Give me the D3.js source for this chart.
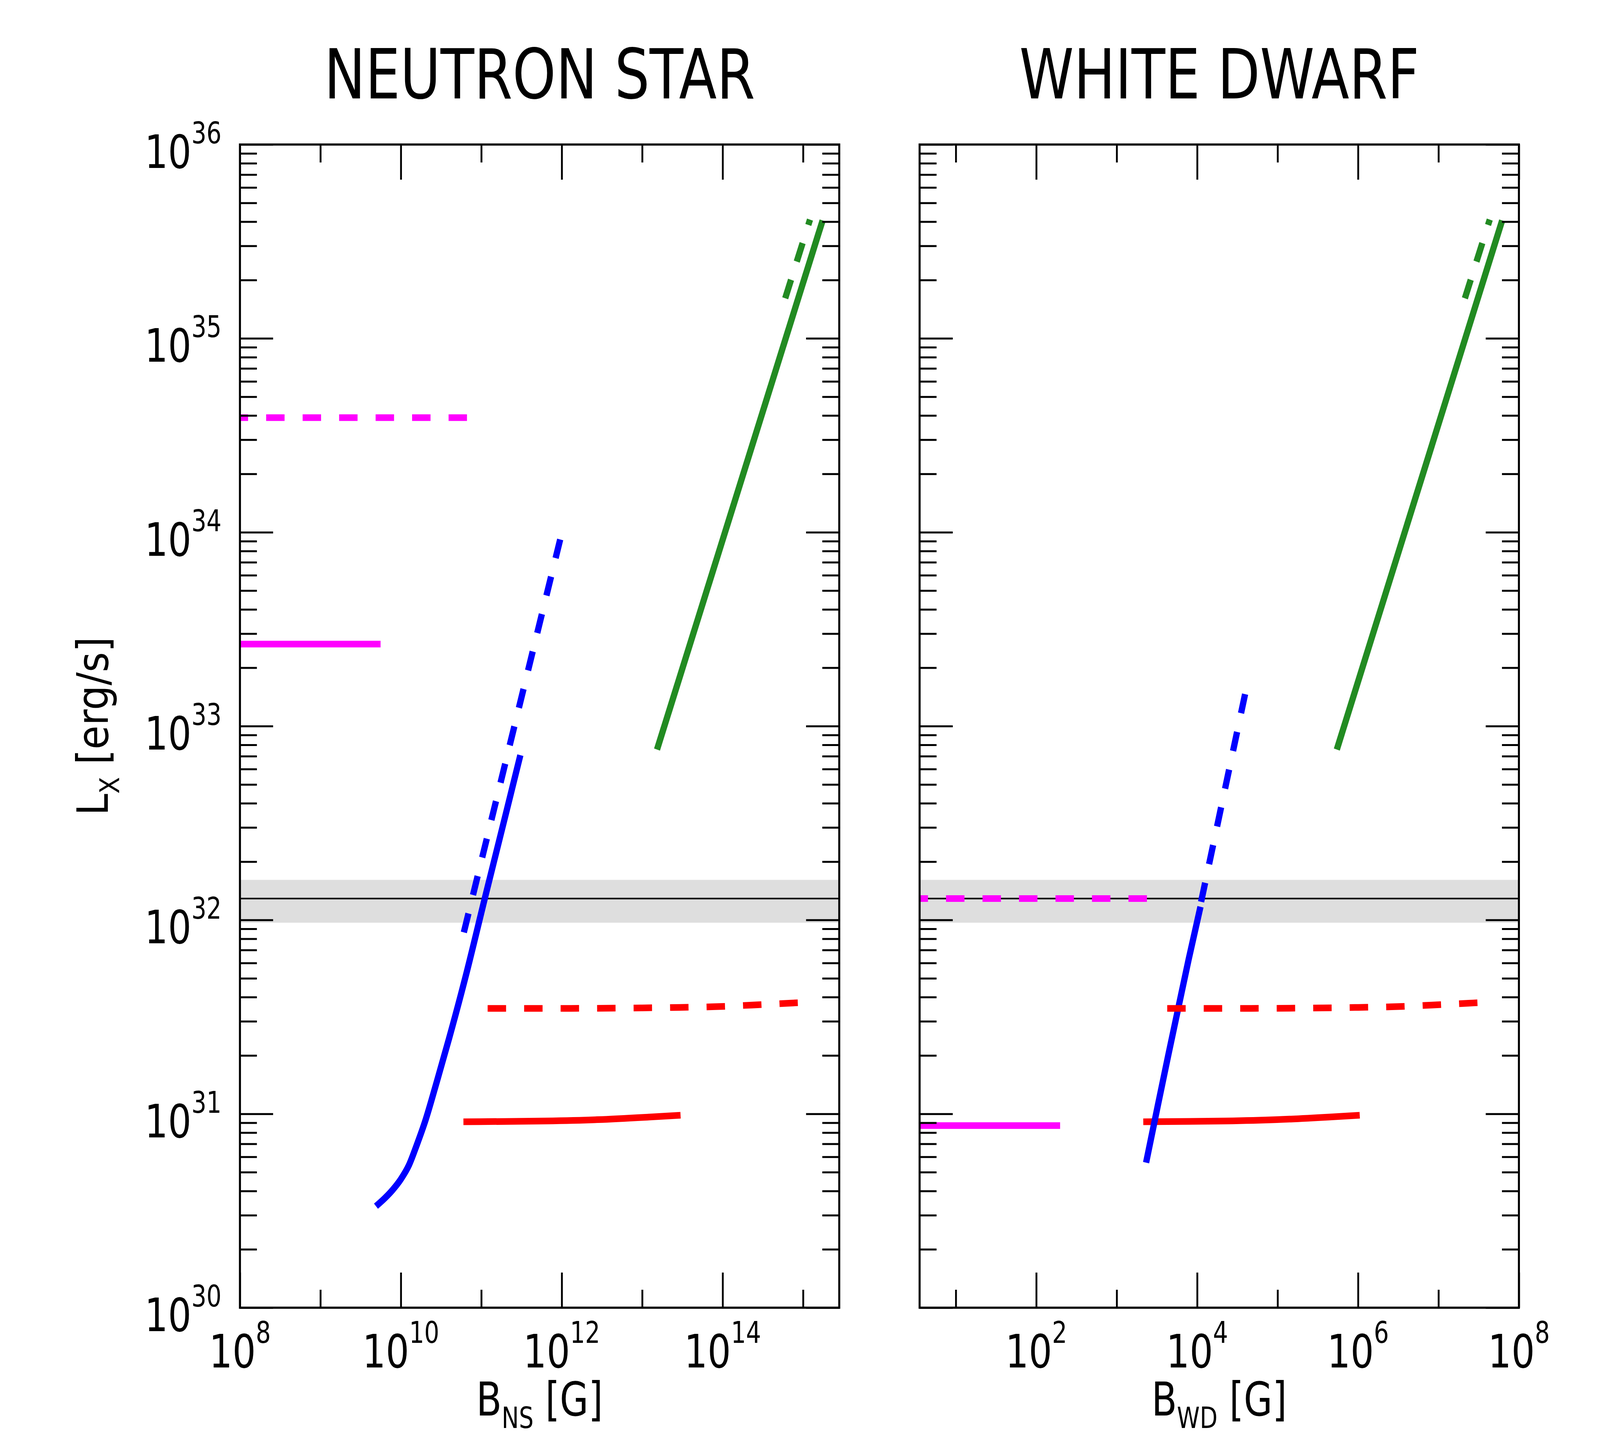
<!DOCTYPE html>
<html>
<head>
<meta charset="utf-8">
<script src="https://cdn.jsdelivr.net/npm/d3@7"></script>
<style>
  html, body { margin: 0; padding: 0; background: #fff; width: 100%; height: 100%; overflow: hidden; }
  svg { display: block; width: 100vw; height: 100vh; }
  text { font-family: "DejaVu Sans", sans-serif; fill: #000; }
</style>
</head>
<body>
<div id="chart"></div>
<script>
// ---- data ----
// neutron star panel
var nsBlueSolidB = [4.91e9, 6.31e9, 7.94e9, 1.0e10, 1.26e10, 1.58e10, 2.0e10, 2.82e10, 3.98e10, 6.31e10, 1.12e11, 2.0e11, 3.06e11];
var nsBlueSolidL = [3.34e30, 3.67e30, 4.06e30, 4.60e30, 5.43e30, 6.92e30, 9.12e30, 1.48e31, 2.45e31, 5.01e31, 1.32e32, 3.47e32, 7.08e32];
var nsBlueDashB = [6.07e10, 9.57e11];
var nsBlueDashL = [8.63e31, 9.18e33];
var nsRedSolidB = [6.0e10, 6.3e11, 2.8e12, 1.2e13, 3.0e13];
var nsRedSolidL = [9.1e30, 9.18e30, 9.33e30, 9.62e30, 9.84e30];
var nsRedDashB = [1.2e11, 1.3e12, 1.0e13, 2.9e13, 8.1e13, 2.3e14, 6.6e14, 8.6e14];
var nsRedDashL = [3.50e31, 3.50e31, 3.52e31, 3.54e31, 3.57e31, 3.64e31, 3.72e31, 3.74e31];
var nsGreenSolidB = [1.53e13, 1.75e15];
var nsGreenSolidL = [7.57e32, 4.06e35];
var nsGreenDashB = [6.0e14, 1.22e15];
var nsGreenDashL = [1.61e35, 4.1e35];
var nsMagentaSolidB = [1e7, 5.6e9];
var nsMagentaSolidL = [2.65e33, 2.65e33];
var nsMagentaDashB = [7.45e7, 6.64e10];
var nsMagentaDashL = [3.9e34, 3.9e34];

// white dwarf panel
var wdBlueSolidB = [2.32e3, 3.24e3, 4.37e3, 5.86e3, 7.87e3, 1.10e4];
var wdBlueSolidL = [5.6e30, 1.10e31, 2.0e31, 3.55e31, 6.3e31, 1.17e32];
var wdBlueDashB = [1.12e4, 3.97e4];
var wdBlueDashL = [1.24e32, 1.48e33];
var wdRedSolidB = [2.14e3, 2.24e4, 9.8e4, 4.3e5, 1.05e6];
var wdRedSolidL = [9.1e30, 9.18e30, 9.33e30, 9.62e30, 9.84e30];
var wdRedDashB = [4.25e3, 4.68e4, 3.6e5, 1.01e6, 2.89e6, 8.2e6, 2.34e7, 3.05e7];
var wdRedDashL = [3.50e31, 3.50e31, 3.52e31, 3.54e31, 3.57e31, 3.64e31, 3.72e31, 3.74e31];
var wdGreenSolidB = [5.45e5, 6.19e7];
var wdGreenSolidL = [7.57e32, 4.06e35];
var wdGreenDashB = [2.13e7, 4.34e7];
var wdGreenDashL = [1.61e35, 4.1e35];
var wdMagentaSolidB = [1, 198];
var wdMagentaSolidL = [8.7e30, 8.7e30];
var wdMagentaDashB = [2.66, 2.38e3];
var wdMagentaDashL = [1.29e32, 1.29e32];

// observed luminosity and its range (both panels)
var obsL = 1.29e32;
var obsBand = [9.68e31, 1.61e32];

// axes
var yDomain = [1e30, 1e36];
var yMajorExp = [30, 31, 32, 33, 34, 35, 36];
var nsXDomain = [1e8, Math.pow(10, 15.45)];
var wdXDomain = [Math.pow(10, 0.55), 1e8];
var nsXMajorExp = [8, 10, 12, 14];
var nsXMinorExp = [9, 11, 13, 15];
var wdXMajorExp = [2, 4, 6, 8];
var wdXMinorExp = [1, 3, 5, 7];

var titles = ['NEUTRON STAR', 'WHITE DWARF'];
var xSubs = ['NS', 'WD'];

// ---- layout ----
var width = 4341, height = 3720;
var plotTop = 370, plotBottom = 3348;
var squeeze = 0.845; // narrow glyphs as in the original

// fill the whole window with the 4341x3720 drawing
var svg = d3.select('#chart').append('svg')
	.attr('viewBox', '0 0 ' + width + ' ' + height)
	.attr('preserveAspectRatio', 'none');
svg.append('rect').attr('width', width).attr('height', height).attr('fill', '#fff');

var yScale = d3.scaleLog().domain(yDomain).range([plotBottom, plotTop]);

// text helper: parts = [[text, size, dy], ...]
function addText(g, x, yy, anchor, parts, rotate) {
	var t = g.append('text')
		.attr('transform', 'translate(' + x + ',' + yy + ')' + (rotate ? ' rotate(' + rotate + ')' : '') + ' scale(' + squeeze + ',1)')
		.attr('text-anchor', anchor);
	parts.forEach(function (p) {
		t.append('tspan')
			.attr('font-size', p[1] + 'px')
			.attr('dy', p[2] || 0)
			.text(p[0]);
	});
	return t;
}

function pow10(e) { return Math.pow(10, e); }

function drawPanel(i, x0, x1, xDomain, majorExp, minorExp, series) {
	var xScale = d3.scaleLog().domain(xDomain).range([x0, x1]);
	var g = svg.append('g');

	var clipId = 'clip' + i;
	svg.append('clipPath').attr('id', clipId)
		.append('rect').attr('x', x0).attr('y', plotTop).attr('width', x1 - x0).attr('height', plotBottom - plotTop);

	var plot = g.append('g').attr('clip-path', 'url(#' + clipId + ')');

	// grey band + observed line
	plot.append('rect')
		.attr('x', x0).attr('width', x1 - x0)
		.attr('y', yScale(obsBand[1]))
		.attr('height', yScale(obsBand[0]) - yScale(obsBand[1]))
		.attr('fill', '#dedede');
	plot.append('line')
		.attr('x1', x0).attr('x2', x1)
		.attr('y1', yScale(obsL)).attr('y2', yScale(obsL))
		.attr('stroke', '#000').attr('stroke-width', 4);

	var line = d3.line()
		.x(function (d) { return xScale(d[0]); })
		.y(function (d) { return yScale(d[1]); })
		.curve(d3.curveMonotoneX);

	series.forEach(function (s) {
		var pts = d3.zip(s.B, s.L);
		var p = plot.append('path')
			.attr('d', line(pts))
			.attr('fill', 'none')
			.attr('stroke', s.color)
			.attr('stroke-width', 17)
			.attr('stroke-linecap', 'butt')
			.attr('stroke-linejoin', 'round');
		if (s.dashed) p.attr('stroke-dasharray', '50,49');
	});

	// ticks via d3 axes (inward)
	var minorY = [];
	yMajorExp.slice(0, -1).forEach(function (e) {
		for (var k = 2; k <= 9; k++) minorY.push(k * pow10(e));
	});
	var yMajor = yMajorExp.map(pow10);
	var xMajor = majorExp.map(pow10);
	var xMinor = minorExp.map(pow10);

	var axes = [
		[d3.axisLeft(yScale).tickValues(yMajor).tickSize(-90), 'translate(' + x0 + ',0)'],
		[d3.axisLeft(yScale).tickValues(minorY).tickSize(-46), 'translate(' + x0 + ',0)'],
		[d3.axisRight(yScale).tickValues(yMajor).tickSize(-90), 'translate(' + x1 + ',0)'],
		[d3.axisRight(yScale).tickValues(minorY).tickSize(-46), 'translate(' + x1 + ',0)'],
		[d3.axisBottom(xScale).tickValues(xMajor).tickSize(-90), 'translate(0,' + plotBottom + ')'],
		[d3.axisBottom(xScale).tickValues(xMinor).tickSize(-46), 'translate(0,' + plotBottom + ')'],
		[d3.axisTop(xScale).tickValues(xMajor).tickSize(-90), 'translate(0,' + plotTop + ')'],
		[d3.axisTop(xScale).tickValues(xMinor).tickSize(-46), 'translate(0,' + plotTop + ')']
	];
	axes.forEach(function (a) {
		var ag = g.append('g').attr('transform', a[1])
			.call(a[0].tickFormat(''));
		ag.select('.domain').remove();
		ag.selectAll('line').attr('stroke', '#000').attr('stroke-width', 5);
	});

	// frame
	g.append('rect')
		.attr('x', x0).attr('y', plotTop)
		.attr('width', x1 - x0).attr('height', plotBottom - plotTop)
		.attr('fill', 'none').attr('stroke', '#000').attr('stroke-width', 5.5);

	// x tick labels
	majorExp.forEach(function (e) {
		addText(g, xScale(pow10(e)), 3501, 'middle', [['10', 118], [String(e), 76, -63]]);
	});

	// x label
	addText(g, (x0 + x1) / 2, 3624, 'middle', [['B', 119], [xSubs[i], 74, 32], [' [G]', 119, -32]]);

	// title
	addText(g, (x0 + x1) / 2, 252, 'middle', [[titles[i], 177]]);

	return g;
}

var nsPanel = drawPanel(0, 651, 2277, nsXDomain, nsXMajorExp, nsXMinorExp, [
	{ B: nsRedSolidB, L: nsRedSolidL, color: '#ff0000' },
	{ B: nsBlueSolidB, L: nsBlueSolidL, color: '#0000ff' },
	{ B: nsMagentaSolidB, L: nsMagentaSolidL, color: '#ff00ff' },
	{ B: nsGreenSolidB, L: nsGreenSolidL, color: '#228b22' },
	{ B: nsMagentaDashB, L: nsMagentaDashL, color: '#ff00ff', dashed: true },
	{ B: nsRedDashB, L: nsRedDashL, color: '#ff0000', dashed: true },
	{ B: nsBlueDashB, L: nsBlueDashL, color: '#0000ff', dashed: true },
	{ B: nsGreenDashB, L: nsGreenDashL, color: '#228b22', dashed: true }
]);

drawPanel(1, 2495, 4121, wdXDomain, wdXMajorExp, wdXMinorExp, [
	{ B: wdRedSolidB, L: wdRedSolidL, color: '#ff0000' },
	{ B: wdBlueSolidB, L: wdBlueSolidL, color: '#0000ff' },
	{ B: wdMagentaSolidB, L: wdMagentaSolidL, color: '#ff00ff' },
	{ B: wdGreenSolidB, L: wdGreenSolidL, color: '#228b22' },
	{ B: wdMagentaDashB, L: wdMagentaDashL, color: '#ff00ff', dashed: true },
	{ B: wdRedDashB, L: wdRedDashL, color: '#ff0000', dashed: true },
	{ B: wdBlueDashB, L: wdBlueDashL, color: '#0000ff', dashed: true },
	{ B: wdGreenDashB, L: wdGreenDashL, color: '#228b22', dashed: true }
]);

// y tick labels (left panel only)
yMajorExp.forEach(function (e) {
	var ty = yScale(pow10(e));
	addText(nsPanel, 601, ty + 60, 'end', [['10', 118], [String(e), 76, -63]]);
});

// y label
addText(nsPanel, 293, (plotTop + plotBottom) / 2, 'middle', [['L', 118], ['X', 74, 30], [' [erg/s]', 118, -30]], -90);
</script>
</body>
</html>
